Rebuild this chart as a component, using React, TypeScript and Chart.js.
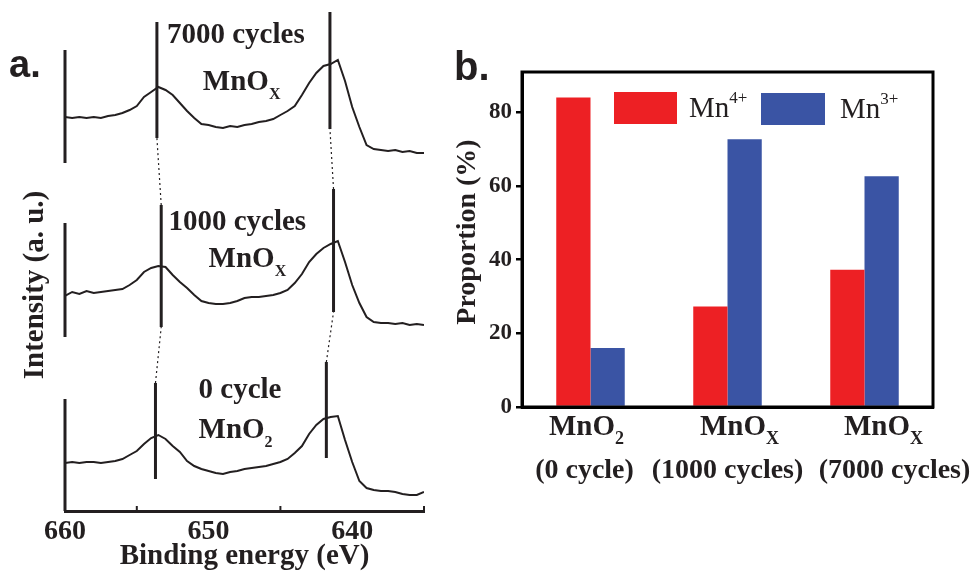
import React, { useEffect, useRef } from "react";
import { Chart, registerables } from "chart.js";

Chart.register(...registerables);

const SERIF = "'Liberation Serif', 'Times New Roman', Times, serif";
const SANS = "'Liberation Sans', Arial, Helvetica, sans-serif";
const INK = "#231f20";

// ---------- Panel a: Mn 2p XPS spectra ----------
const bindingEnergy = [
  660, 659.5, 659, 658.5, 658, 657.5, 657, 656.5, 656, 655.5, 655, 654.5, 654, 653.5, 653, 652.5, 652,
  651.5, 651, 650.5, 650, 649.5, 649, 648.5, 648, 647.5, 647, 646.5, 646, 645.5, 645, 644.5, 644, 643.5,
  643, 642.5, 642, 641.5, 641, 640.5, 640, 639.5, 639, 638.5, 638, 637.5, 637, 636.5, 636, 635.5, 635,
];
const intensity0Cycle = [
  48, 49, 48, 49, 49, 48, 49, 50, 52, 56, 60, 67, 73, 76, 72, 65, 59, 50, 45, 42, 40, 38, 37, 39, 40, 42,
  43, 44, 45, 47, 49, 52, 58, 65, 77, 86, 92, 94, 95, 71, 49, 30, 23, 21, 20, 20, 19, 17, 16, 16, 19,
];
const intensity1000Cycles = [
  215, 219, 217, 220, 218, 219, 220, 221, 222, 226, 231, 239, 243, 245, 244, 236, 229, 223, 216, 210, 208,
  207, 207, 208, 210, 213, 214, 214, 215, 216, 218, 221, 228, 237, 249, 257, 263, 267, 270, 249, 226, 208,
  194, 189, 188, 188, 187, 188, 186, 187, 186,
];
const intensity7000Cycles = [
  394, 393, 394, 393, 394, 393, 395, 396, 398, 401, 405, 414, 419, 424, 421, 416, 408, 400, 393, 387, 386,
  384, 383, 385, 384, 386, 387, 389, 390, 392, 396, 400, 405, 416, 428, 438, 445, 447, 451, 430, 404, 384,
  366, 362, 361, 360, 361, 359, 360, 358, 358,
];
const spectrumCycles = ["0 cycle", "1000 cycles", "7000 cycles"];
const spectrumPhase = ["MnO", "MnO", "MnO"];
const spectrumPhaseSub = ["2", "X", "X"];
// peak marker lines per spectrum: [Mn 2p1/2, Mn 2p3/2]
const peakEnergy = [
  [653.7, 641.8],
  [653.3, 641.3],
  [653.6, 641.55],
];
const peakLow = [
  [32, 53],
  [184, 199],
  [373, 382],
];
const peakHigh = [
  [128, 149],
  [306, 322],
  [489, 499],
];
const axisSegLow = [0, 174, 348];
const axisSegHigh = [112, 288, 461];
const energyMinorTicks = [655, 645, 635];

// ---------- Panel b: proportions ----------
const sampleMain = ["MnO", "MnO", "MnO"];
const sampleSub = ["2", "X", "X"];
const sampleCycles = ["(0 cycle)", "(1000 cycles)", "(7000 cycles)"];
const mn4Proportion = [84.1, 27.3, 37.3];
const mn3Proportion = [16.0, 72.7, 62.7];
const seriesNames = ["Mn", "Mn"];
const seriesSup = ["4+", "3+"];
const RED = "#ED2024";
const BLUE = "#3A54A4";

type Part = { t: string; font: string; dy?: number };
function drawRich(ctx: CanvasRenderingContext2D, x: number, y: number, parts: Part[], align: "left" | "center") {
  let w = 0;
  parts.forEach((p) => {
    ctx.font = p.font;
    w += ctx.measureText(p.t).width;
  });
  let cx = align === "center" ? x - w / 2 : x;
  ctx.textAlign = "left";
  ctx.textBaseline = "alphabetic";
  parts.forEach((p) => {
    ctx.font = p.font;
    ctx.fillText(p.t, cx, y + (p.dy || 0));
    cx += ctx.measureText(p.t).width;
  });
}

export default function App() {
  const aRef = useRef<HTMLCanvasElement>(null);
  const bRef = useRef<HTMLCanvasElement>(null);

  useEffect(() => {
    const spectra = [intensity0Cycle, intensity1000Cycles, intensity7000Cycles];
    const datasets: any[] = spectra.map((s) => ({
      data: bindingEnergy.map((e, i) => ({ x: e, y: s[i] })),
      borderColor: INK,
      borderWidth: 2,
      pointRadius: 0,
      tension: 0,
      fill: false,
    }));
    for (let s = 0; s < 3; s++) {
      for (let k = 0; k < 2; k++) {
        datasets.push({
          data: [
            { x: peakEnergy[s][k], y: peakLow[s][k] },
            { x: peakEnergy[s][k], y: peakHigh[s][k] },
          ],
          borderColor: INK,
          borderWidth: 3,
          pointRadius: 0,
        });
      }
    }
    for (let s = 0; s < 2; s++) {
      for (let k = 0; k < 2; k++) {
        datasets.push({
          data: [
            { x: peakEnergy[s][k], y: peakHigh[s][k] },
            { x: peakEnergy[s + 1][k], y: peakLow[s + 1][k] },
          ],
          borderColor: INK,
          borderWidth: 1.2,
          borderDash: [2, 3],
          pointRadius: 0,
        });
      }
    }

    const annotA = {
      id: "annotA",
      afterDatasetsDraw(chart: any) {
        const { ctx, chartArea, scales } = chart;
        const x = scales.x;
        const y = scales.y;
        ctx.save();
        ctx.strokeStyle = INK;
        ctx.fillStyle = INK;
        ctx.lineWidth = 3;
        axisSegLow.forEach((lo, i) => {
          ctx.beginPath();
          ctx.moveTo(chartArea.left, y.getPixelForValue(lo));
          ctx.lineTo(chartArea.left, y.getPixelForValue(axisSegHigh[i]));
          ctx.stroke();
        });
        ctx.lineWidth = 2;
        energyMinorTicks.forEach((e) => {
          const px = x.getPixelForValue(e);
          ctx.beginPath();
          ctx.moveTo(px, chartArea.bottom);
          ctx.lineTo(px, chartArea.bottom - 5);
          ctx.stroke();
        });
        const cyclePos = [
          [650.7, 113],
          [652.8, 281],
          [652.9, 468],
        ];
        const phasePos = [
          [650.7, 73],
          [650.0, 244],
          [650.4, 421],
        ];
        const big = `bold 29px ${SERIF}`;
        const small = `bold 16px ${SERIF}`;
        for (let s = 0; s < 3; s++) {
          drawRich(ctx, x.getPixelForValue(cyclePos[s][0]), y.getPixelForValue(cyclePos[s][1]), [{ t: spectrumCycles[s], font: big }], "left");
          drawRich(
            ctx,
            x.getPixelForValue(phasePos[s][0]),
            y.getPixelForValue(phasePos[s][1]),
            [
              { t: spectrumPhase[s], font: big },
              { t: spectrumPhaseSub[s], font: small, dy: 9 },
            ],
            "left"
          );
        }
        ctx.save();
        ctx.translate(36, 285);
        ctx.rotate(-Math.PI / 2);
        ctx.font = `bold 29px ${SERIF}`;
        ctx.textAlign = "center";
        ctx.textBaseline = "middle";
        ctx.fillText("Intensity (a. u.)", 0, 0);
        ctx.restore();
        ctx.font = `bold 38px ${SANS}`;
        ctx.textAlign = "left";
        ctx.textBaseline = "alphabetic";
        ctx.fillText("a.", 9, 77);
        ctx.restore();
      },
    };

    const chartA = new Chart(aRef.current!, {
      type: "line",
      data: { datasets },
      options: {
        responsive: false,
        animation: false,
        devicePixelRatio: 1,
        layout: { padding: { left: 65, right: 16, top: 11, bottom: 0 } },
        plugins: { legend: { display: false }, tooltip: { enabled: false } },
        scales: {
          x: {
            type: "linear",
            reverse: true,
            min: 635,
            max: 660,
            grid: { display: false, drawTicks: false },
            border: { display: true, width: 3, color: INK },
            ticks: {
              stepSize: 5,
              autoSkip: false,
              maxRotation: 0,
              padding: 4,
              color: INK,
              font: { family: SERIF, size: 28, weight: "bold" },
              callback: (v: any) => (Number(v) % 10 === 0 ? String(v) : ""),
            },
            title: {
              display: true,
              text: "Binding energy (eV)",
              color: INK,
              font: { family: SERIF, size: 29, weight: "bold" },
              padding: { top: 0, bottom: 8 },
            },
            afterFit: (s: any) => {
              s.height = 71;
            },
          },
          y: { display: false, min: 0, max: 500 },
        },
      } as any,
      plugins: [annotA],
    });

    const annotB = {
      id: "annotB",
      afterDraw(chart: any) {
        const { ctx, chartArea, scales } = chart;
        const x = scales.x;
        ctx.save();
        ctx.strokeStyle = "#000";
        ctx.lineWidth = 3;
        ctx.strokeRect(chartArea.left, chartArea.top, chartArea.right - chartArea.left, chartArea.bottom - chartArea.top);
        // legend
        const boxes = [
          [174, 92, 63, 32, 249, 117],
          [321, 93, 64, 32, 400, 118],
        ];
        const colors = [RED, BLUE];
        boxes.forEach((b, i) => {
          ctx.fillStyle = colors[i];
          ctx.fillRect(b[0], b[1], b[2], b[3]);
          ctx.fillStyle = INK;
          drawRich(
            ctx,
            b[4],
            b[5],
            [
              { t: seriesNames[i], font: `29px ${SERIF}` },
              { t: seriesSup[i], font: `17px ${SERIF}`, dy: -14 },
            ],
            "left"
          );
        });
        // category labels
        const line1Off = [-4, 12, 19];
        const line2Off = [-6, 0, 30];
        ctx.fillStyle = INK;
        sampleMain.forEach((m, i) => {
          const cx = x.getPixelForValue(i);
          drawRich(
            ctx,
            cx + line1Off[i],
            435,
            [
              { t: m, font: `bold 29px ${SERIF}` },
              { t: sampleSub[i], font: `bold 18px ${SERIF}`, dy: 9 },
            ],
            "center"
          );
          drawRich(ctx, cx + line2Off[i], 478, [{ t: sampleCycles[i], font: `bold 28px ${SERIF}` }], "center");
        });
        // y title
        ctx.save();
        ctx.translate(28, 232);
        ctx.rotate(-Math.PI / 2);
        ctx.font = `bold 28px ${SERIF}`;
        ctx.textAlign = "center";
        ctx.textBaseline = "middle";
        ctx.fillText("Proportion (%)", 0, 0);
        ctx.restore();
        ctx.font = `bold 40px ${SANS}`;
        ctx.textAlign = "left";
        ctx.textBaseline = "alphabetic";
        ctx.fillText("b.", 14, 80);
        ctx.restore();
      },
    };

    const chartB = new Chart(bRef.current!, {
      type: "bar",
      data: {
        labels: sampleCycles,
        datasets: [
          { label: "Mn4+", data: mn4Proportion, backgroundColor: RED, borderWidth: 0, categoryPercentage: 0.5, barPercentage: 1.0 },
          { label: "Mn3+", data: mn3Proportion, backgroundColor: BLUE, borderWidth: 0, categoryPercentage: 0.5, barPercentage: 1.0 },
        ],
      },
      options: {
        responsive: false,
        animation: false,
        devicePixelRatio: 1,
        layout: { padding: { left: 0, right: 39, top: 72, bottom: 0 } },
        plugins: { legend: { display: false }, tooltip: { enabled: false } },
        scales: {
          x: {
            grid: { display: false, drawTicks: false },
            border: { display: true, width: 3, color: "#000" },
            ticks: { display: false },
            afterFit: (s: any) => {
              s.height = 175;
            },
          },
          y: {
            min: 0,
            max: 91,
            grid: { display: true, drawOnChartArea: false, drawTicks: true, tickLength: 6, color: "#000", lineWidth: 2.5 },
            border: { display: true, width: 3, color: "#000" },
            ticks: {
              stepSize: 20,
              includeBounds: false,
              padding: 4,
              color: INK,
              font: { family: SERIF, size: 23, weight: "bold" },
            },
            afterFit: (s: any) => {
              s.width = 82;
            },
          },
        },
      } as any,
      plugins: [annotB],
    });

    return () => {
      chartA.destroy();
      chartB.destroy();
    };
  }, []);

  return (
    <div style={{ position: "absolute", left: 0, top: 0, width: 972, height: 582, background: "#fff" }}>
      <canvas ref={aRef} width={440} height={582} style={{ position: "absolute", left: 0, top: 0, width: 440, height: 582 }} />
      <canvas ref={bRef} width={532} height={582} style={{ position: "absolute", left: 440, top: 0, width: 532, height: 582 }} />
    </div>
  );
}
